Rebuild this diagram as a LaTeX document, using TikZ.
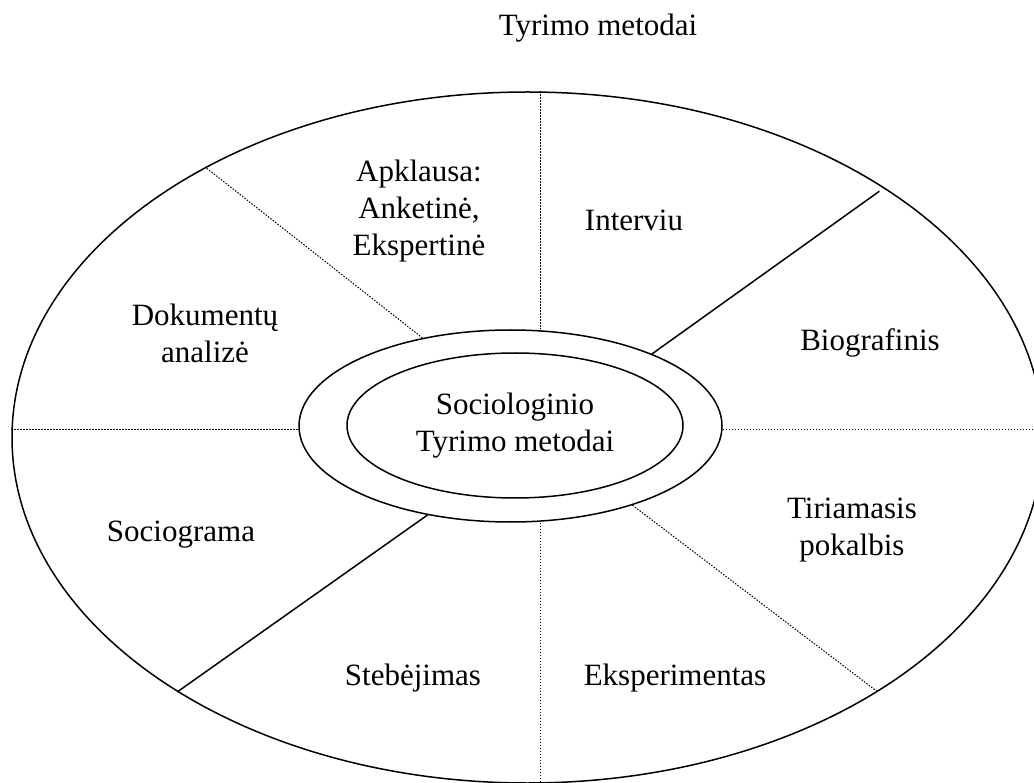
\documentclass[tikz,border=0pt]{standalone}
\usepackage{fontspec}
\setmainfont{Liberation Serif}
\usepackage{tikz}
\usetikzlibrary{shapes.geometric}
\tikzstyle{oval} = [ellipse, draw, line width=1.5pt, inner sep=0pt]
\tikzstyle{txt} = [align=center, inner sep=0pt, font=\fontsize{31pt}{37pt}\selectfont]
\tikzstyle{spoke} = [line width=1.5pt]
\tikzstyle{dotspoke} = [line width=1pt, dash pattern=on 1.5pt off 1.5pt]

\begin{document}
\begin{tikzpicture}[x=1pt, y=-1pt]
\useasboundingbox (0,0) rectangle (1034,783);

\node [txt] (title) at (598,28) {Tyrimo metodai};

\node [oval, minimum width=1031pt, minimum height=691pt] (outer) at (527.5,437.5) {};
\node [oval, minimum width=423pt, minimum height=192pt] (ring) at (510.5,426) {};
\node [oval, txt, minimum width=336pt, minimum height=145pt] (core) at (515,425.5) {Sociologinio\\Tyrimo metodai};

\coordinate (hub) at (540,430);

% dotted cross
\draw [dotspoke] (outer.west |- hub) to (ring.west |- hub);
\draw [dotspoke] (ring.east |- hub) to (outer.east |- hub);
\draw [dotspoke] (hub |- outer.north) to (hub |- ring.north);
\draw [dotspoke] (hub |- ring.south) to (hub |- outer.south);

% diagonals
\draw [dotspoke] (ring.135) to (outer.140);
\draw [spoke, shorten >=6.5pt] (ring.27) to (outer.35);
\draw [spoke] (ring.227) to (outer.216);
\draw [dotspoke] (ring.327) to (outer.324);

\node [txt] (apklausa) at (419,211) {Apklausa:\\Anketinė,\\Ekspertinė};
\node [txt] (interviu) at (634,220) {Interviu};
\node [txt] (dokumentai) at (205,333) {Dokumentų\\analizė};
\node [txt] (biografinis) at (870,343) {Biografinis};
\node [txt] (sociograma) at (181,535) {Sociograma};
\node [txt] (pokalbis) at (852,530) {Tiriamasis\\pokalbis};
\node [txt] (stebejimas) at (413,678) {Stebėjimas};
\node [txt] (eksperimentas) at (675,678) {Eksperimentas};
\end{tikzpicture}
\end{document}
